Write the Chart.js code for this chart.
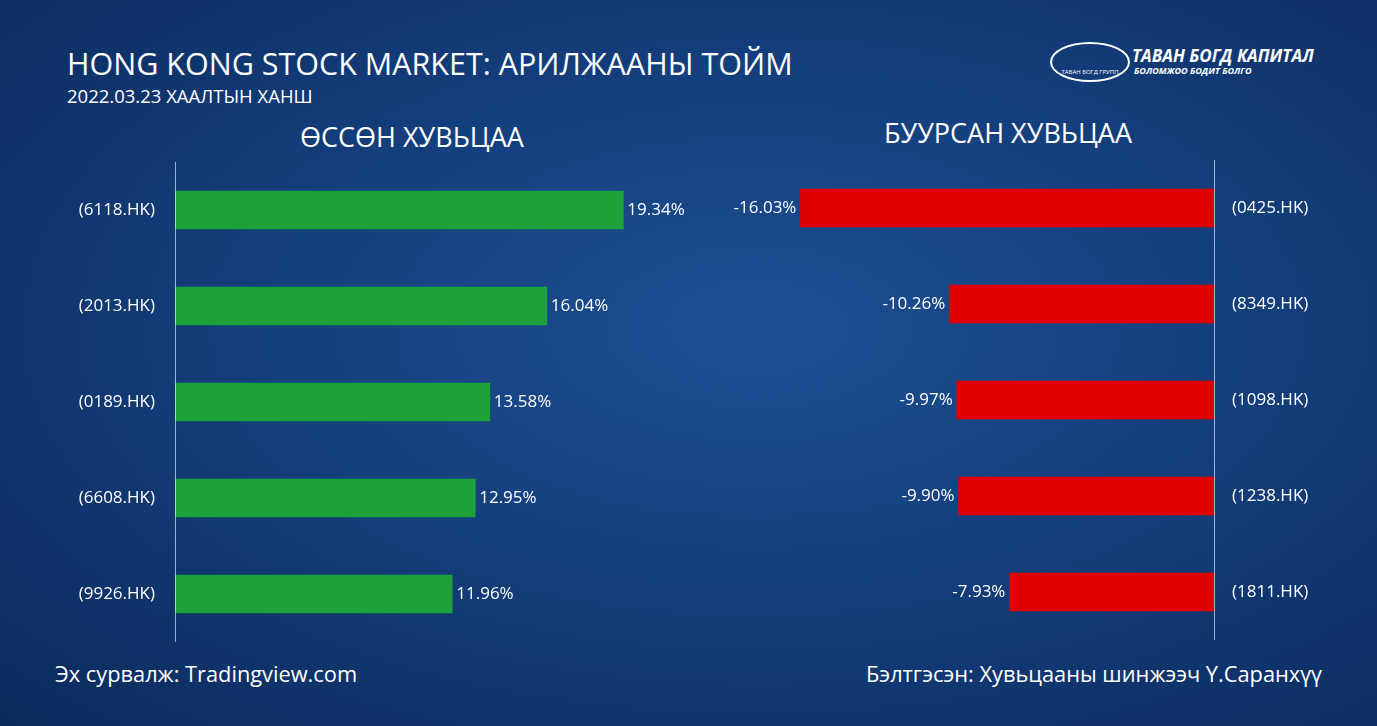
<!DOCTYPE html>
<html>
<head>
<meta charset="utf-8">
<script src="https://cdn.jsdelivr.net/npm/chart.js@4.4.0/dist/chart.umd.min.js"></script>
<style>
    body { margin: 0; width: 1377px; height: 726px; overflow: hidden;
        background: radial-gradient(ellipse at 55% 45%, #1d4f93 0%, #143f7d 45%, #0b2a5c 100%);
        font-family: 'Open Sans', sans-serif; color: #fff; position: relative; }
    .t { position: absolute; white-space: nowrap; }
    canvas { position: absolute; }
</style>
</head>
<body>
<div class="t" style="left:67px;top:42px;font-size:30.5px;">HONG KONG STOCK MARKET: АРИЛЖААНЫ ТОЙМ</div>
<div class="t" style="left:67px;top:83px;font-size:18.5px;">2022.03.23 ХААЛТЫН ХАНШ</div>
<div class="t" style="left:300px;top:118px;font-size:27px;">ӨССӨН ХУВЬЦАА</div>
<div class="t" style="left:884px;top:114px;font-size:27px;">БУУРСАН ХУВЬЦАА</div>
<div class="t" style="left:55px;top:659px;font-size:21.8px;">Эх сурвалж: Tradingview.com</div>
<div class="t" style="right:55px;top:659px;font-size:21.8px;">Бэлтгэсэн: Хувьцааны шинжээч Ү.Саранхүү</div>
<div class="t" style="left:1050px;top:42px;width:76px;height:36px;border:2px solid #fff;border-radius:50%;font-size:6px;text-align:center;line-height:56px;">ТАВАН БОГД ГРУПП</div>
<div class="t" style="left:1132px;top:44px;font-size:17px;font-weight:bold;font-style:italic;">ТАВАН БОГД КАПИТАЛ</div>
<div class="t" style="left:1134px;top:64px;font-size:9px;font-weight:bold;font-style:italic;">БОЛОМЖОО БОДИТ БОЛГО</div>
<canvas id="up" width="700" height="500" style="left:0;top:150px;"></canvas>
<canvas id="down" width="687" height="500" style="left:690px;top:150px;"></canvas>
<script>
const upLabels = ['(6118.HK)', '(2013.HK)', '(0189.HK)', '(6608.HK)', '(9926.HK)'];
const upValues = [19.34, 16.04, 13.58, 12.95, 11.96];
const downLabels = ['(0425.HK)', '(8349.HK)', '(1098.HK)', '(1238.HK)', '(1811.HK)'];
const downValues = [-16.03, -10.26, -9.97, -9.90, -7.93];

const labelPlugin = {
    id: 'labels',
    afterDatasetsDraw(chart) {
        const ctx = chart.ctx;
        const a = chart.chartArea;
        const neg = chart.options.neg;
        const axisX = neg ? a.right : a.left;
        ctx.save();
        ctx.strokeStyle = 'rgba(255,255,255,0.6)';
        ctx.lineWidth = 1;
        ctx.beginPath();
        ctx.moveTo(axisX + 0.5, a.top);
        ctx.lineTo(axisX + 0.5, a.bottom);
        ctx.stroke();
        ctx.fillStyle = '#fff';
        ctx.font = '17px "Open Sans"';
        ctx.textBaseline = 'middle';
        const meta = chart.getDatasetMeta(0);
        meta.data.forEach((bar, i) => {
            const v = chart.data.datasets[0].data[i];
            const txt = v.toFixed(2) + '%';
            if (neg) {
                ctx.textAlign = 'right';
                ctx.fillText(txt, bar.x - 4, bar.y);
                ctx.textAlign = 'left';
                ctx.fillText(chart.data.labels[i], axisX + 18, bar.y);
            } else {
                ctx.textAlign = 'left';
                ctx.fillText(txt, bar.x + 4, bar.y);
                ctx.textAlign = 'right';
                ctx.fillText(chart.data.labels[i], axisX - 20, bar.y);
            }
        });
        ctx.restore();
    }
};

function makeChart(id, labels, values, color, neg, padding, min, max) {
    return new Chart(document.getElementById(id), {
        type: 'bar',
        data: { labels: labels, datasets: [{ data: values, backgroundColor: color, barThickness: 38 }] },
        options: {
            neg: neg,
            indexAxis: 'y',
            responsive: false,
            animation: false,
            layout: { padding: padding },
            plugins: { legend: { display: false }, tooltip: { enabled: false } },
            scales: {
                x: { display: false, min: min, max: max },
                y: { display: false }
            }
        },
        plugins: [labelPlugin]
    });
}

makeChart('up', upLabels, upValues, '#1ea03a', false, { left: 175, right: 15, top: 12, bottom: 8 }, 0, 22);
makeChart('down', downLabels, downValues, '#e00000', true, { left: 8, right: 163, top: 10, bottom: 10 }, -20, 0);
</script>
</body>
</html>
